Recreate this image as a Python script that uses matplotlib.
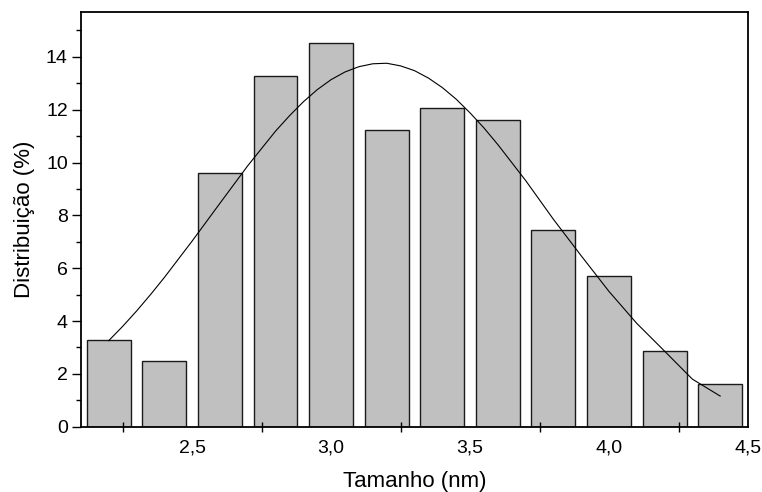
import matplotlib.pyplot as plt

plt.rcParams['font.family'] = ['Liberation Sans', 'DejaVu Sans']

# histograma
tamanho = [2.2, 2.4, 2.6, 2.8, 3.0, 3.2, 3.4, 3.6, 3.8, 4.0, 4.2, 4.4]
distribuicao = [3.29, 2.47, 9.62, 13.26, 14.52, 11.25, 12.08, 11.62, 7.44, 5.71, 2.88, 1.63]

# curva de ajuste
ajuste_x = [2.2, 2.25, 2.3, 2.35, 2.4, 2.5, 2.6, 2.7, 2.8, 2.85, 2.9, 2.95, 3.0, 3.05, 3.1, 3.15,
            3.2, 3.25, 3.3, 3.35, 3.4, 3.45, 3.5, 3.55, 3.6, 3.7, 3.8, 3.9, 4.0,
            4.1, 4.2, 4.3, 4.4]
ajuste_y = [3.26, 3.80, 4.38, 5.00, 5.65, 7.03, 8.46, 9.88, 11.19, 11.77, 12.30, 12.76, 13.14, 13.43,
            13.63, 13.74, 13.76, 13.66, 13.48, 13.20, 12.84, 12.40, 11.88, 11.31, 10.68,
            9.32, 7.85, 6.47, 5.12, 3.91, 2.86, 1.80, 1.16]

xticks = [2.5, 3.0, 3.5, 4.0, 4.5]
xtick_labels = ['2,5', '3,0', '3,5', '4,0', '4,5']
xminor = [2.25, 2.75, 3.25, 3.75, 4.25]

fig = plt.figure(figsize=(7.62, 4.92), dpi=100)
ax = fig.add_axes([0.1063, 0.1327, 0.8753, 0.8429])

ax.bar(tamanho, distribuicao, width=0.158, color='#c0c0c0', edgecolor='#1a1a1a', linewidth=1.0)
ax.plot(ajuste_x, ajuste_y, color='black', linewidth=0.8)

ax.set_xlim(2.1, 4.5)
ax.set_ylim(0, 15.7)

ax.set_xticks(xticks)
ax.set_xticklabels(xtick_labels)
ax.set_xticks(xminor, minor=True)
ax.tick_params(axis='x', which='major', length=0, pad=9.5, labelsize=14)
ax.tick_params(axis='x', which='minor', direction='inout', length=7, width=1)

ax.set_yticks(range(0, 16, 2))
ax.set_yticks(range(1, 16, 2), minor=True)
ax.tick_params(axis='y', which='major', direction='out', length=6.5, width=1, pad=3, labelsize=14)
ax.tick_params(axis='y', which='minor', direction='out', length=3.6, width=1)

for s in ax.spines.values():
    s.set_linewidth(1.3)

ax.set_xlabel('Tamanho (nm)', fontsize=16, labelpad=10)
ax.set_ylabel('Distribuição (%)', fontsize=16, labelpad=8)

fig.savefig('out.png', dpi=100)
